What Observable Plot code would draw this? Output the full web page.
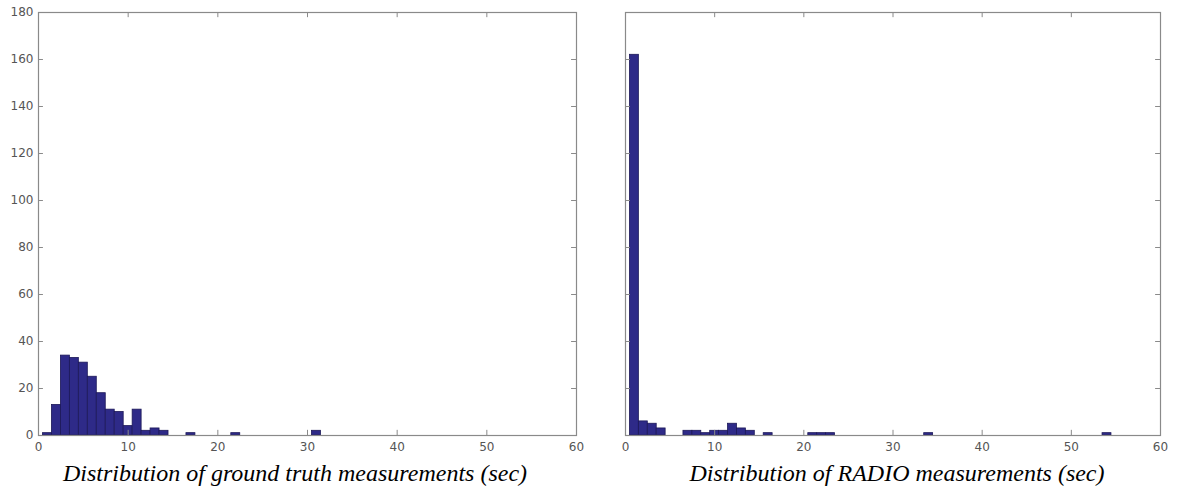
<!DOCTYPE html>
<html>
<head>
<meta charset="utf-8">
<script src="https://cdn.jsdelivr.net/npm/d3@7"></script>
<script src="https://cdn.jsdelivr.net/npm/@observablehq/plot@0.6"></script>
<style>
  html, body { margin: 0; padding: 0; background: #fff; }
  #wrap { position: relative; width: 1177px; height: 493px; overflow: hidden; }
  .panel { position: absolute; top: 0; }
  .cap { position: absolute; top: 460px; font-family: "Liberation Serif", "Times New Roman", serif; font-style: italic; font-size: 24px; color: #000; text-align: center; white-space: nowrap; }
</style>
</head>
<body>
<div id="wrap"></div>
<script>
// Ground truth histogram: bin centers (sec) and counts
const gtBins   = [1, 2, 3, 4, 5, 6, 7, 8, 9, 10, 11, 12, 13, 14, 17, 22, 31];
const gtCounts = [1, 13, 34, 33, 31, 25, 18, 11, 10, 4, 11, 2, 3, 2, 1, 1, 2];

// RADIO histogram: bin centers (sec) and counts
const radioBins   = [1, 2, 3, 4, 7, 8, 9, 10, 11, 12, 13, 14, 16, 21, 22, 23, 34, 54];
const radioCounts = [162, 6, 5, 3, 2, 2, 1, 2, 2, 5, 3, 2, 1, 1, 1, 1, 1, 1];

const xTicks = [0, 10, 20, 30, 40, 50, 60];
const yTicks = [0, 20, 40, 60, 80, 100, 120, 140, 160, 180];

const captions = ["Distribution of ground truth measurements (sec)", "Distribution of RADIO measurements (sec)"];

const barFill = "#2e2a88";
const barStroke = "#1c1858";
const axisGray = "#8a8a8a";
const labelGray = "#555";

function histPlot(bins, counts, {showY, width, marginLeft, marginRight}) {
  const data = bins.map((b, i) => ({x1: b - 0.5, x2: b + 0.5, count: counts[i]}));
  return Plot.plot({
    width, height: 460,
    marginLeft, marginRight, marginTop: 12, marginBottom: 25,
    style: {fontFamily: "'DejaVu Sans', sans-serif", fontSize: "12px", color: labelGray, background: "white"},
    x: {domain: [0, 60], label: null, axis: null},
    y: {domain: [0, 180], label: null, axis: null},
    marks: [
      Plot.rectY(data, {x1: "x1", x2: "x2", y: "count", fill: barFill, stroke: barStroke, strokeWidth: 0.8}),
      // inward ticks (MATLAB style)
      Plot.ruleX(xTicks, {y1: 0, y2: 2.2, stroke: axisGray}),
      Plot.ruleX(xTicks, {y1: 177.8, y2: 180, stroke: axisGray}),
      Plot.ruleY(yTicks, {x1: 0, x2: 0.55, stroke: axisGray}),
      Plot.ruleY(yTicks, {x1: 59.45, x2: 60, stroke: axisGray}),
      Plot.frame({stroke: axisGray, strokeWidth: 1.2}),
      Plot.axisX(xTicks, {tickSize: 0, tickPadding: 7, fill: labelGray, fontSize: 12, label: null}),
      showY ? Plot.axisY(yTicks, {tickSize: 0, tickPadding: 5, fill: labelGray, fontSize: 12, label: null}) : null
    ]
  });
}

const wrap = document.getElementById("wrap");

const left = histPlot(gtBins, gtCounts, {showY: true, width: 590, marginLeft: 38, marginRight: 14});
const lp = document.createElement("div"); lp.className = "panel"; lp.style.left = "0px"; lp.appendChild(left); wrap.appendChild(lp);

const right = histPlot(radioBins, radioCounts, {showY: false, width: 587, marginLeft: 35, marginRight: 17});
const rp = document.createElement("div"); rp.className = "panel"; rp.style.left = "590px"; rp.appendChild(right); wrap.appendChild(rp);

const capCenters = [295, 897];
captions.forEach((t, i) => {
  const c = document.createElement("div");
  c.className = "cap";
  c.textContent = t;
  c.style.left = (capCenters[i] - 300) + "px";
  c.style.width = "600px";
  wrap.appendChild(c);
});
</script>
</body>
</html>
